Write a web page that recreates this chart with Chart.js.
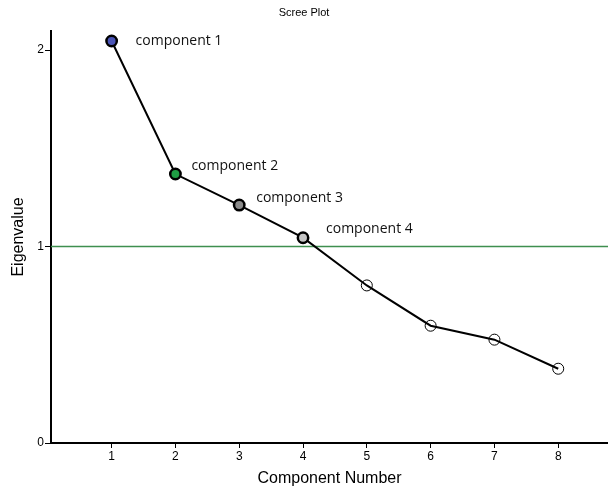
<!DOCTYPE html>
<html>
<head>
<meta charset="utf-8">
<title>Scree Plot</title>
<script src="https://cdn.jsdelivr.net/npm/chart.js@4/dist/chart.umd.min.js"></script>
<style>
  html, body { margin: 0; padding: 0; background: #ffffff; }
  #wrap { width: 608px; height: 488px; position: relative; }
</style>
</head>
<body>
<div id="wrap"><canvas id="scree"></canvas></div>
<script>
// Component numbers and their eigenvalues
const components = [1, 2, 3, 4, 5, 6, 7, 8];
const eigenvalues = [2.046, 1.369, 1.211, 1.045, 0.802, 0.597, 0.526, 0.378];

// Retained components get a name tag beside their point
const componentNames = ['component 1', 'component 2', 'component 3', 'component 4'];

// Kaiser criterion: keep components with eigenvalue above 1
const kaiserThreshold = 1;

// Axis ticks
const xTickValues = [1, 2, 3, 4, 5, 6, 7, 8];
const yTickValues = [0, 1, 2];

const pointFills = ['#4a54b6', '#1f9e44', '#8b8b8b', '#c6c6c6',
                    'rgba(0,0,0,0)', 'rgba(0,0,0,0)', 'rgba(0,0,0,0)', 'rgba(0,0,0,0)'];
const pointBorders = [2.5, 2.5, 2.5, 2.5, 1, 1, 1, 1];
const pointRadii = [5.2, 5.2, 5.2, 5.2, 5.5, 5.5, 5.5, 5.5];

// Offsets (px) of each name tag from its point
const nameOffsets = [[24, 0], [16, -8], [17, -7], [23, -9]];

const thresholdLine = {
  id: 'thresholdLine',
  beforeDatasetsDraw(chart) {
    const { ctx, chartArea, scales } = chart;
    const y = scales.y.getPixelForValue(kaiserThreshold);
    ctx.save();
    ctx.strokeStyle = '#3f8f4f';
    ctx.lineWidth = 1.6;
    ctx.beginPath();
    ctx.moveTo(chartArea.left, y);
    ctx.lineTo(chartArea.right, y);
    ctx.stroke();
    ctx.restore();
  }
};

const componentTags = {
  id: 'componentTags',
  afterDatasetsDraw(chart) {
    const { ctx } = chart;
    const meta = chart.getDatasetMeta(0);
    ctx.save();
    ctx.fillStyle = '#111111';
    ctx.font = '14px "Open Sans", "Noto Sans", sans-serif';
    ctx.textAlign = 'left';
    ctx.textBaseline = 'middle';
    componentNames.forEach((name, i) => {
      const pt = meta.data[i];
      const [dx, dy] = nameOffsets[i];
      ctx.fillText(name, pt.x + dx, pt.y + dy);
    });
    ctx.restore();
  }
};

const axisFont = { family: '"Liberation Sans", Arial, sans-serif', size: 12 };

new Chart(document.getElementById('scree'), {
  type: 'line',
  data: {
    datasets: [{
      label: 'Eigenvalue',
      data: components.map((c, i) => ({ x: c, y: eigenvalues[i] })),
      borderColor: '#000000',
      borderWidth: 2,
      tension: 0,
      pointBackgroundColor: pointFills,
      pointBorderColor: '#000000',
      pointBorderWidth: pointBorders,
      pointRadius: pointRadii,
      pointHoverRadius: pointRadii,
      clip: false
    }]
  },
  options: {
    responsive: true,
    maintainAspectRatio: false,
    animation: false,
    layout: { padding: 0, autoPadding: false },
    plugins: {
      legend: { display: false },
      tooltip: { enabled: false },
      title: {
        display: true,
        text: 'Scree Plot',
        color: '#000000',
        font: { family: '"Liberation Sans", Arial, sans-serif', size: 11, weight: 'normal' },
        padding: { top: 6.4, bottom: 11.4 }
      }
    },
    scales: {
      x: {
        type: 'linear',
        min: 0.05,
        max: 8.78,
        afterBuildTicks: (scale) => { scale.ticks = xTickValues.map(v => ({ value: v })); },
        afterFit: (scale) => { scale.height = 45; },
        border: { display: true, color: '#000000', width: 2 },
        grid: { display: true, drawOnChartArea: false, drawTicks: true, tickLength: 5, tickColor: '#000000', tickWidth: 1 },
        ticks: { color: '#000000', font: axisFont, padding: 1, maxRotation: 0 },
        title: {
          display: true,
          text: 'Component Number',
          color: '#000000',
          font: { family: '"Liberation Sans", Arial, sans-serif', size: 16 },
          padding: { top: 0, bottom: 0 }
        }
      },
      y: {
        type: 'linear',
        min: 0,
        max: 2.097,
        afterBuildTicks: (scale) => { scale.ticks = yTickValues.map(v => ({ value: v })); },
        afterFit: (scale) => { scale.width = 51; },
        border: { display: true, color: '#000000', width: 2 },
        grid: { display: true, drawOnChartArea: false, drawTicks: true, tickLength: 6, tickColor: '#000000', tickWidth: 1 },
        ticks: { color: '#000000', font: axisFont, padding: 1 },
        title: {
          display: true,
          text: 'Eigenvalue',
          color: '#000000',
          font: { family: '"Liberation Sans", Arial, sans-serif', size: 16 },
          padding: { top: 9, bottom: 0 }
        }
      }
    }
  },
  plugins: [thresholdLine, componentTags]
});
</script>
</body>
</html>
